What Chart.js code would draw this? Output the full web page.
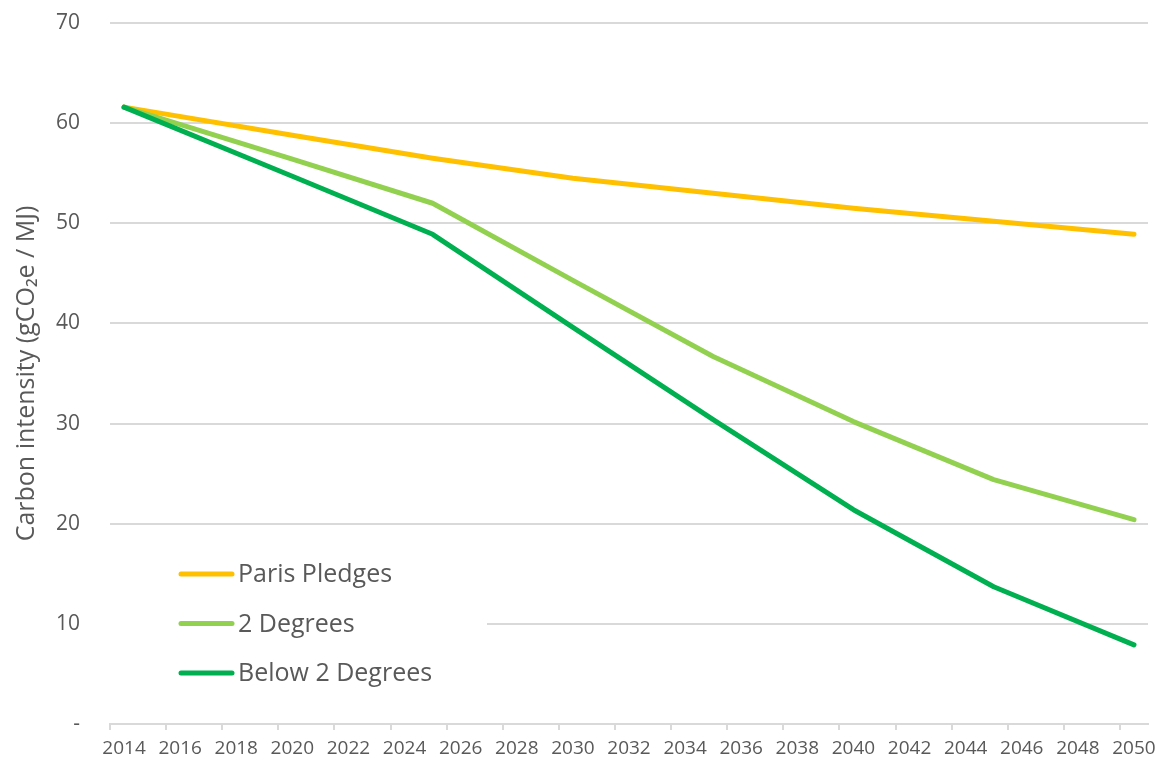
<!DOCTYPE html>
<html>
<head>
<meta charset="utf-8">
<script src="https://cdn.jsdelivr.net/npm/chart.js@4.4.1/dist/chart.umd.min.js"></script>
<style>
  html, body { margin: 0; padding: 0; background: #fff; }
  #wrap { width: 1163px; height: 762px; }
</style>
</head>
<body>
<div id="wrap"><canvas id="chart" width="1163" height="762"></canvas></div>
<script>
// every year on the axis, labels shown on even years
var yearLabels = ['2014','2015','2016','2017','2018','2019','2020','2021','2022','2023',
  '2024','2025','2026','2027','2028','2029','2030','2031','2032','2033','2034','2035',
  '2036','2037','2038','2039','2040','2041','2042','2043','2044','2045','2046','2047',
  '2048','2049','2050'];

// years that carry a value
var pointYears = ['2014','2020','2025','2030','2035','2040','2045','2050'];

var parisPledges = [61.6, 58.8, 56.5, 54.5, 53.0, 51.5, 50.2, 48.9];
var twoDegrees   = [61.6, 56.4, 52.0, 44.3, 36.7, 30.2, 24.4, 20.4];
var belowTwo     = [61.6, 54.7, 48.9, 39.6, 30.4, 21.4, 13.7, 7.9];

var textColor = '#595959';
var gridColor = '#d9d9d9';
var fontFamily = "'Open Sans', 'Noto Sans', sans-serif";

function toPoints(values) {
  return pointYears.map(function(y, i) { return { x: y, y: values[i] }; });
}

// white box + legend drawn inside the plot area, bottom left
var insideLegend = {
  id: 'insideLegend',
  beforeDatasetsDraw: function(chart) {
    var ctx = chart.ctx;
    ctx.save();
    ctx.fillStyle = '#fff';
    ctx.fillRect(105, 540, 382, 165);
    ctx.restore();
  },
  afterDatasetsDraw: function(chart) {
    var ctx = chart.ctx;
    var ds = chart.data.datasets;
    ctx.save();
    ctx.font = '25px ' + fontFamily;
    ctx.textBaseline = 'middle';
    ctx.lineCap = 'round';
    for (var i = 0; i < ds.length; i++) {
      var y = 574 + i * 49.5;
      ctx.strokeStyle = ds[i].borderColor;
      ctx.lineWidth = 5;
      ctx.beginPath();
      ctx.moveTo(181, y);
      ctx.lineTo(232, y);
      ctx.stroke();
      ctx.fillStyle = textColor;
      ctx.fillText(ds[i].label, 238, y + 1);
    }
    ctx.restore();
  }
};

var ctx = document.getElementById('chart').getContext('2d');
var myChart = new Chart(ctx, {
  type: 'line',
  data: {
    labels: yearLabels,
    datasets: [{
      label: 'Paris Pledges',
      data: toPoints(parisPledges),
      borderColor: '#FFC000',
      order: 3
    }, {
      label: '2 Degrees',
      data: toPoints(twoDegrees),
      borderColor: '#92D050',
      order: 2
    }, {
      label: 'Below 2 Degrees',
      data: toPoints(belowTwo),
      borderColor: '#00B050',
      order: 1
    }]
  },
  options: {
    responsive: false,
    animation: false,
    devicePixelRatio: 1,
    layout: {
      padding: { top: 23, right: 15, left: 0, bottom: 0 }
    },
    elements: {
      line: {
        borderWidth: 5,
        tension: 0,
        fill: false,
        borderCapStyle: 'round',
        borderJoinStyle: 'round'
      },
      point: { radius: 0, hoverRadius: 0 }
    },
    plugins: {
      legend: { display: false },
      tooltip: { enabled: false }
    },
    scales: {
      x: {
        type: 'category',
        offset: true,
        afterFit: function(scale) {
          scale.height = 38;
          scale.paddingLeft = 0;
          scale.paddingRight = 0;
        },
        border: { display: true, color: gridColor, width: 2 },
        grid: {
          offset: true,
          drawOnChartArea: false,
          tickLength: 6,
          lineWidth: 2,
          color: function(c) { return c.index % 2 === 0 ? gridColor : 'rgba(0,0,0,0)'; }
        },
        ticks: {
          autoSkip: false,
          maxRotation: 0,
          padding: 7,
          color: textColor,
          font: { family: fontFamily, size: 19 },
          callback: function(v, i) { return i % 2 === 0 ? this.getLabelForValue(v) : ''; }
        }
      },
      y: {
        min: 0,
        max: 70,
        afterFit: function(scale) {
          scale.width = 110;
          scale.paddingTop = 0;
          scale.paddingBottom = 0;
        },
        border: { display: false },
        grid: {
          color: function(c) { return c.tick && c.tick.value === 0 ? 'rgba(0,0,0,0)' : gridColor; },
          lineWidth: 2,
          drawTicks: false
        },
        ticks: {
          stepSize: 10,
          padding: 30,
          color: textColor,
          font: { family: fontFamily, size: 21 },
          callback: function(v) { return v === 0 ? '-' : v; }
        },
        title: {
          display: true,
          text: 'Carbon intensity (gCO\u2082e / MJ)',
          color: textColor,
          font: { family: fontFamily, size: 25 },
          padding: { top: 12, bottom: 0 }
        }
      }
    }
  },
  plugins: [insideLegend]
});
</script>
</body>
</html>
